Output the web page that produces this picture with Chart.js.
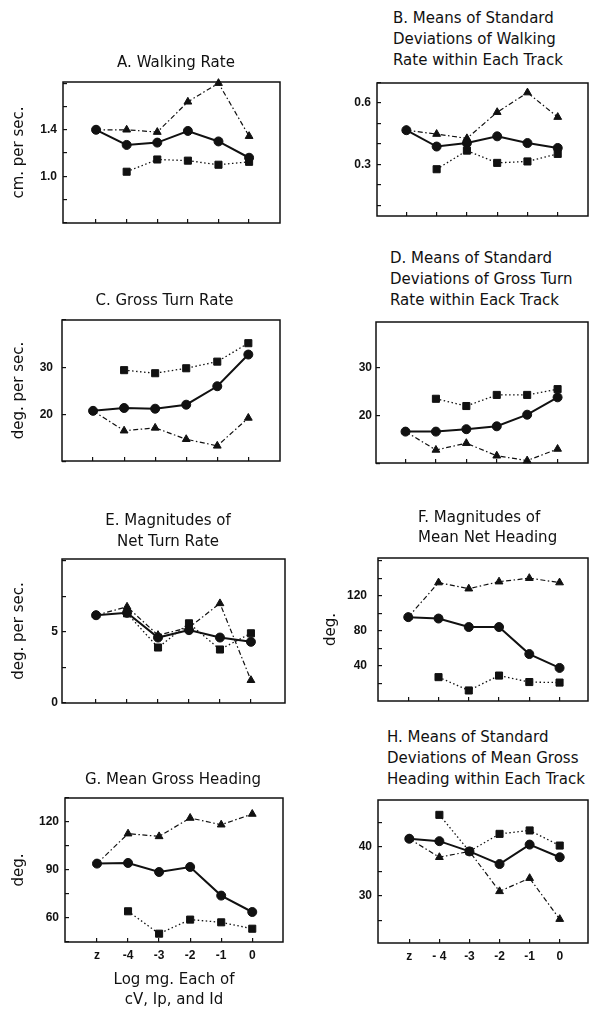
<!DOCTYPE html>
<html>
<head>
<meta charset="utf-8">
<script src="https://cdn.jsdelivr.net/npm/chart.js@4.4.1/dist/chart.umd.min.js"></script>
<style>
body{margin:0;background:#fff;width:594px;height:1010px;overflow:hidden;position:relative;font-family:"DejaVu Sans",sans-serif;color:#111}
canvas{position:absolute}
.ttl{position:absolute;font-size:15px;white-space:nowrap}
</style>
</head>
<body>
<script>
// ---- x categories (log mg dose, z = control) ----
const xLabels = ["z", "-4", "-3", "-2", "-1", "0"];
const xLabelsH = ["z", "- 4", "-3", "-2", "-1", "0"];

// ---- A. walking rate ----
const walkCircle   = [1.40, 1.27, 1.29, 1.39, 1.30, 1.16];
const walkTriangle = [1.40, 1.40, 1.38, 1.64, 1.80, 1.345];
const walkSquare   = [null, 1.04, 1.145, 1.135, 1.10, 1.125];
const walkTicks  = [0.6, 0.8, 1.0, 1.2, 1.4, 1.6, 1.8];
const walkLabels = ["1.0", "1.4"];

// ---- B. SD of walking rate ----
const walkSdCircle   = [0.467, 0.387, 0.404, 0.437, 0.404, 0.38];
const walkSdTriangle = [0.467, 0.448, 0.427, 0.555, 0.651, 0.531];
const walkSdSquare   = [null, 0.276, 0.367, 0.307, 0.314, 0.351];
const walkSdTicks  = [0.1, 0.2, 0.3, 0.4, 0.5, 0.6, 0.7];
const walkSdLabels = ["0.3", "0.6"];

// ---- C. gross turn rate ----
const turnCircle   = [20.8, 21.4, 21.25, 22.1, 26.0, 32.7];
const turnTriangle = [20.8, 16.6, 17.2, 14.8, 13.4, 19.3];
const turnSquare   = [null, 29.4, 28.75, 29.8, 31.2, 35.1];
const turnTicks  = [10, 20, 30, 40];
const turnLabels = ["20", "30"];

// ---- D. SD of gross turn rate ----
const turnSdCircle   = [16.7, 16.7, 17.2, 17.8, 20.2, 23.8];
const turnSdTriangle = [16.7, 12.9, 14.3, 11.7, 10.7, 13.1];
const turnSdSquare   = [null, 23.5, 22.0, 24.3, 24.3, 25.5];
const turnSdTicks  = [10, 20, 30];
const turnSdLabels = ["20", "30"];

// ---- E. net turn rate ----
const netTurnCircle   = [6.17, 6.34, 4.6, 5.12, 4.6, 4.3];
const netTurnTriangle = [6.17, 6.76, 4.77, 5.3, 7.0, 1.6];
const netTurnSquare   = [null, 6.3, 3.9, 5.6, 3.76, 4.9];
const netTurnTicks  = [0, 2.5, 5, 7.5, 10];
const netTurnLabels = ["0", "5"];

// ---- F. mean net heading ----
const netHeadCircle   = [95.6, 94, 84.3, 84.3, 53.5, 37.7];
const netHeadTriangle = [95.6, 135, 128, 136, 140, 135];
const netHeadSquare   = [null, 27.2, 12, 29, 21.6, 21];
const netHeadTicks  = [20, 40, 60, 80, 100, 120, 140, 160];
const netHeadLabels = ["40", "80", "120"];

// ---- G. mean gross heading ----
const grossHeadCircle   = [94, 94.4, 88.75, 91.9, 74, 63.75];
const grossHeadTriangle = [94, 112.7, 111, 122.5, 118.3, 125];
const grossHeadSquare   = [null, 64.2, 50.2, 59, 57.3, 53.3];
const grossHeadTicks  = [45, 60, 75, 90, 105, 120, 135];
const grossHeadLabels = ["60", "90", "120"];

// ---- H. SD of mean gross heading ----
const headSdCircle   = [41.7, 41.2, 39.1, 36.5, 40.5, 37.9];
const headSdTriangle = [41.7, 37.9, 39.1, 30.9, 33.6, 25.2];
const headSdSquare   = [null, 46.6, 39.1, 42.7, 43.4, 40.3];
const headSdTicks  = [25, 30, 35, 40, 45];
const headSdLabels = ["30", "40"];


Chart.defaults.font.family = '"Liberation Sans", Arial, sans-serif';
Chart.defaults.color = "#111";

// full frame round the plot area
const boxPlugin = {
  id: "box",
  afterDraw(chart) {
    const {ctx, chartArea: a} = chart;
    ctx.save();
    ctx.strokeStyle = "#111";
    ctx.lineWidth = 1.5;
    ctx.strokeRect(a.left, a.top, a.right - a.left, a.bottom - a.top);
    ctx.restore();
  }
};

function series(vals, shape, dash, width, radius) {
  return {
    data: vals.map((v, i) => ({x: i, y: v})),
    borderColor: "#111",
    backgroundColor: "#111",
    borderWidth: width,
    borderDash: dash,
    pointStyle: shape,
    pointRadius: radius,
    pointBorderWidth: 1,
    tension: 0,
    clip: false
  };
}

function panel(p) {
  const x0 = p.col * 297;
  const [l, t, r, b] = p.box;
  const y0 = t - 10;

  const cv = document.createElement("canvas");
  cv.width = 297;
  cv.height = p.bottom - y0;
  cv.style.left = x0 + "px";
  cv.style.top = y0 + "px";
  document.body.appendChild(cv);

  // panel heading
  const ttl = document.createElement("div");
  ttl.className = "ttl";
  ttl.style.top = p.titleTop + "px";
  ttl.style.lineHeight = (p.titleLH || 21) + "px";
  if (p.center) {
    ttl.style.left = (p.titleX - 150) + "px";
    ttl.style.width = "300px";
    ttl.style.textAlign = "center";
  } else {
    ttl.style.left = p.titleX + "px";
  }
  ttl.innerHTML = p.title.join("<br>");
  document.body.appendChild(ttl);

  new Chart(cv, {
    type: "line",
    data: {
      datasets: [
        series(p.circle, "circle", [], 2, 4.5),
        series(p.triangle, "triangle", [5, 2.5, 1.5, 2.5], 1.2, 4.5),
        series(p.square, "rect", [1.5, 2.5], 1.3, 5)
      ]
    },
    options: {
      responsive: false,
      animation: false,
      events: [],
      layout: {padding: {left: 0, top: t - y0, right: x0 + 297 - r, bottom: 0}},
      plugins: {legend: {display: false}, tooltip: {enabled: false}, title: {display: false}},
      scales: {
        x: {
          type: "linear",
          min: p.xr[0],
          max: p.xr[1],
          border: {display: false},
          grid: {drawOnChartArea: false, tickLength: -4, color: "#111", lineWidth: 1.2},
          afterBuildTicks: s => { s.ticks = xLabels.map((_, i) => ({value: i})); },
          ticks: {
            display: !!p.xShow,
            autoSkip: false,
            maxRotation: 0,
            padding: 10,
            font: {size: 12, weight: "bold"},
            callback: v => p.xShow ? p.xShow[v] : ""
          },
          title: p.xTitle
            ? {display: true, text: p.xTitle, font: {family: '"DejaVu Sans"', size: 15, lineHeight: 20 / 15}, padding: {top: 0, bottom: 0}}
            : {display: false},
          afterFit: s => { s.height = p.bottom - b; s.paddingLeft = 0; s.paddingRight = 0; }
        },
        y: {
          min: p.yr[0],
          max: p.yr[1],
          border: {display: false},
          grid: {drawOnChartArea: false, tickLength: -4, color: "#111", lineWidth: 1.2},
          afterBuildTicks: s => { s.ticks = p.yTicks.map(v => ({value: v})); },
          ticks: {
            padding: p.gap + 4,
            font: {size: 12, weight: "bold"},
            callback: v => p.yLabels.find(s => Math.abs(parseFloat(s) - v) < 1e-6) || ""
          },
          title: p.yTitle
            ? {display: true, text: p.yTitle, font: {family: '"DejaVu Sans"', size: 15}, padding: {top: p.yTitlePad, bottom: 0}}
            : {display: false},
          afterFit: s => { s.width = l - x0; s.paddingTop = 0; s.paddingBottom = 0; }
        }
      }
    },
    plugins: [boxPlugin]
  });
}

panel({col: 0, box: [63, 82, 280, 225], bottom: 229, xr: [-1.08, 6.01], yr: [0.6, 1.81],
  circle: walkCircle, triangle: walkTriangle, square: walkSquare,
  yTicks: walkTicks, yLabels: walkLabels, gap: 6, yTitle: "cm. per sec.", yTitlePad: 10.5,
  title: ["A. Walking Rate"], center: true, titleX: 176, titleTop: 52});

panel({col: 1, box: [377, 83, 593, 218], bottom: 222, xr: [-0.97, 6.0], yr: [0.047, 0.698],
  circle: walkSdCircle, triangle: walkSdTriangle, square: walkSdSquare,
  yTicks: walkSdTicks, yLabels: walkSdLabels, gap: 6,
  title: ["B. Means of Standard", "Deviations of Walking", "Rate within Each Track"], titleX: 393, titleTop: 8});

panel({col: 0, box: [62, 320, 280, 463], bottom: 467, xr: [-1.0, 6.02], yr: [10.2, 40],
  circle: turnCircle, triangle: turnTriangle, square: turnSquare,
  yTicks: turnTicks, yLabels: turnLabels, gap: 9, yTitle: "deg. per sec.", yTitlePad: 10,
  title: ["C. Gross Turn Rate"], center: true, titleX: 164.5, titleTop: 290});

panel({col: 1, box: [376, 322, 592, 465], bottom: 469, xr: [-0.97, 6.0], yr: [10.2, 39.4],
  circle: turnSdCircle, triangle: turnSdTriangle, square: turnSdSquare,
  yTicks: turnSdTicks, yLabels: turnSdLabels, gap: 4,
  title: ["D. Means of Standard", "Deviations of Gross Turn", "Rate within Eack Track"], titleX: 390, titleTop: 248});

panel({col: 0, box: [62, 559, 285, 703], bottom: 712, xr: [-1.1, 6.1], yr: [0, 10.12],
  circle: netTurnCircle, triangle: netTurnTriangle, square: netTurnSquare,
  yTicks: netTurnTicks, yLabels: netTurnLabels, gap: 4, yTitle: "deg. per sec.", yTitlePad: 10,
  title: ["E. Magnitudes of", "Net Turn Rate"], center: true, titleX: 168, titleTop: 510});

panel({col: 1, box: [378, 558, 593, 703], bottom: 707, xr: [-1.0, 5.94], yr: [0, 163],
  circle: netHeadCircle, triangle: netHeadTriangle, square: netHeadSquare,
  yTicks: netHeadTicks, yLabels: netHeadLabels, gap: 11, yTitle: "deg.", yTitlePad: 25,
  title: ["F. Magnitudes of", "Mean Net Heading"], titleX: 418, titleTop: 506.5, titleLH: 20});

panel({col: 0, box: [65, 798, 283, 942], bottom: 1010, xr: [-1.03, 5.99], yr: [45, 135],
  circle: grossHeadCircle, triangle: grossHeadTriangle, square: grossHeadSquare,
  yTicks: grossHeadTicks, yLabels: grossHeadLabels, gap: 6, yTitle: "deg.", yTitlePad: 10,
  xShow: xLabels, xTitle: ["Log mg. Each of", "cV, Ip, and Id"],
  title: ["G. Mean Gross Heading"], center: true, titleX: 173, titleTop: 768.5});

panel({col: 1, box: [378, 800, 593, 943], bottom: 975, xr: [-1.04, 5.94], yr: [20.3, 49.65],
  circle: headSdCircle, triangle: headSdTriangle, square: headSdSquare,
  yTicks: headSdTicks, yLabels: headSdLabels, gap: 6, xShow: xLabelsH,
  title: ["H. Means of Standard", "Deviations of Mean Gross", "Heading within Each Track"], titleX: 387, titleTop: 726.5});
</script>
</body>
</html>
